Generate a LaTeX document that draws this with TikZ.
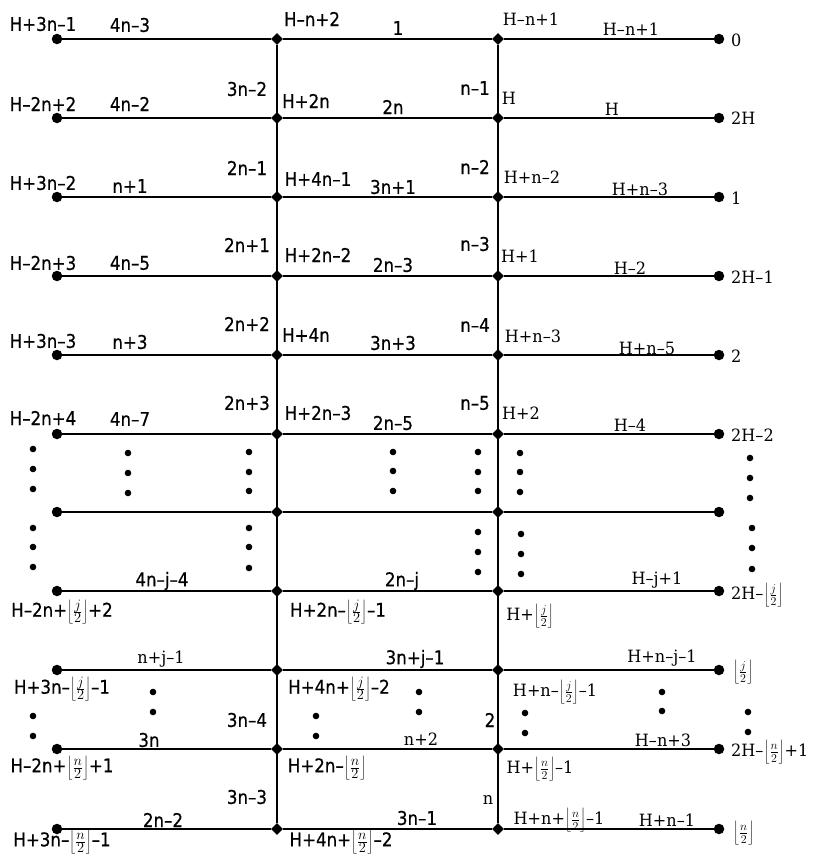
\documentclass[tikz,border=0pt]{standalone}
\usepackage{fontspec}
\newfontfamily\dvs[FakeStretch=0.88,FakeBold=0.5]{DejaVu Sans}
\newfontfamily\dvr[FakeStretch=0.95]{DejaVu Serif}
\usetikzlibrary{shapes.geometric}
\newcommand\flr[1]{\ensuremath{\left\lfloor\frac{#1}{2}\right\rfloor}}
\begin{document}
\begin{tikzpicture}[x=1bp,y=-1bp,
  enddot/.style={circle,fill,inner sep=0pt,minimum size=10.5bp},
  jdot/.style={diamond,fill,inner sep=0pt,minimum size=12bp},
  hl/.style={line width=1.8bp},
  vl/.style={line width=1.5bp},
  sl/.style={inner sep=0pt,font=\dvs\fontsize{19}{22}\selectfont},
  rl/.style={inner sep=0pt,font=\dvr\fontsize{17}{20}\selectfont},
  rr/.style={rl,anchor=west}]
\useasboundingbox (0,0) rectangle (821,857);
\foreach \i/\y in {1/39,2/118,3/197,4/276,5/355,6/434,7/512,8/591,9/670,10/749,11/829} {
  \node[enddot] (L\i) at (57,\y) {};
  \node[jdot] (A\i) at (277,\y) {};
  \node[jdot] (B\i) at (498,\y) {};
  \node[enddot] (R\i) at (719,\y) {};
  \draw[hl] (L\i) -- (A\i) -- (B\i) -- (R\i);
}
\draw[vl] (A1) -- (A11);
\draw[vl] (B1) -- (B11);
% ellipsis dots
\foreach \x/\y in {33/449,33/469,33/489,128/453,128/473,128/493,249/452,249/472,249/491,
  393/452,393/471,393/491,478/452,478/472,478/491,520/453,520/472,520/492,750/458,750/478,750/498,
  33/528,33/547,33/567,249/528,249/547,249/568,478/532,478/552,478/572,521/534,521/554,521/574,
  752/528,752/548,752/569,
  153/692,153/712,33/716,33/736,316/716,316/736,419/692,419/712,525/713,525/733,
  662/692,662/711,748/712,748/732}
  \fill (\x,\y) circle (3.3bp);
% sans labels
\node[sl] (s1) at (43,24) {H+3n–1};
\node[sl] (s2) at (130,25) {4n–3};
\node[sl] (s3) at (312,19) {H–n+2};
\node[sl] (s4) at (398,28) {1};
\node[sl] (s5) at (43,104) {H–2n+2};
\node[sl] (s6) at (130,104) {4n–2};
\node[sl] (s7) at (247,89) {3n–2};
\node[sl] (s8) at (306,101) {H+2n};
\node[sl] (s9) at (393,107) {2n};
\node[sl] (s10) at (475,88) {n–1};
\node[sl] (s11) at (43,183) {H+3n–2};
\node[sl] (s12) at (130,186) {n+1};
\node[sl] (s13) at (247,168) {2n–1};
\node[sl] (s14) at (318,179) {H+4n–1};
\node[sl] (s15) at (393,187) {3n+1};
\node[sl] (s16) at (475,167) {n–2};
\node[sl] (s17) at (43,263) {H–2n+3};
\node[sl] (s18) at (130,263) {4n–5};
\node[sl] (s19) at (247,245) {2n+1};
\node[sl] (s20) at (318,255) {H+2n–2};
\node[sl] (s21) at (393,265) {2n–3};
\node[sl] (s22) at (475,244) {n–3};
\node[sl] (s23) at (43,341) {H+3n–3};
\node[sl] (s24) at (130,342) {n+3};
\node[sl] (s25) at (247,324) {2n+2};
\node[sl] (s26) at (306,335) {H+4n};
\node[sl] (s27) at (393,343) {3n+3};
\node[sl] (s28) at (475,325) {n–4};
\node[sl] (s29) at (43,418) {H–2n+4};
\node[sl] (s30) at (130,419) {4n–7};
\node[sl] (s31) at (247,403) {2n+3};
\node[sl] (s32) at (318,413) {H+2n–3};
\node[sl] (s33) at (393,423) {2n–5};
\node[sl] (s34) at (475,403) {n–5};
\node[sl] (s35) at (162,581) {4n–j–4};
\node[sl] (s36) at (62,612) {H–2n+\flr{j}+2};
\node[sl] (s37) at (402,581) {2n–j};
\node[sl] (s38) at (338,612) {H+2n–\flr{j}–1};
\node[sl] (s39) at (62,689) {H+3n–\flr{j}–1};
\node[sl] (s40) at (415,659) {3n+j–1};
\node[sl] (s41) at (339,689) {H+4n+\flr{j}–2};
\node[sl] (s42) at (247,720) {3n–4};
\node[sl] (s43) at (490,720) {2};
\node[sl] (s44) at (149,740) {3n};
\node[sl] (s45) at (62,768) {H–2n+\flr{n}+1};
\node[sl] (s46) at (327,768) {H+2n–\flr{n}};
\node[sl] (s47) at (247,797) {3n–3};
\node[sl] (s48) at (163,820) {2n–2};
\node[sl] (s49) at (62,842) {H+3n–\flr{n}–1};
\node[sl] (s50) at (417,818) {3n–1};
\node[sl] (s51) at (341,842) {H+4n+\flr{n}–2};
% serif labels
\node[rl] (r1) at (531,19) {H–n+1};
\node[rl] (r2) at (631,29) {H–n+1};
\node[rl] (r3) at (509,98) {H};
\node[rl] (r4) at (612,109) {H};
\node[rl] (r5) at (532,177) {H+n–2};
\node[rl] (r6) at (640,189) {H+n–3};
\node[rl] (r7) at (520,256) {H+1};
\node[rl] (r8) at (630,268) {H–2};
\node[rl] (r9) at (533,336) {H+n–3};
\node[rl] (r10) at (647,348) {H+n–5};
\node[rl] (r11) at (521,413) {H+2};
\node[rl] (r12) at (630,425) {H–4};
\node[rl] (r13) at (657,580) {H–j+1};
\node[rl] (r14) at (530,616) {H+\flr{j}};
\node[rl] (r15) at (161,659) {n+j–1};
\node[rl] (r16) at (662,658) {H+n–j–1};
\node[rl] (r17) at (555,692) {H+n–\flr{j}–1};
\node[rl] (r18) at (421,739) {n+2};
\node[rl] (r19) at (663,740) {H–n+3};
\node[rl] (r20) at (540,769) {H+\flr{n}–1};
\node[rl] (r21) at (488,800) {n};
\node[rl] (r22) at (559,820) {H+n+\flr{n}–1};
\node[rl] (r23) at (667,820) {H+n–1};
% right end labels
\node[rr] (e1) at (731,40) {0};
\node[rr] (e2) at (731,118) {2H};
\node[rr] (e3) at (731,198) {1};
\node[rr] (e4) at (731,277) {2H–1};
\node[rr] (e5) at (731,356) {2};
\node[rr] (e6) at (731,435) {2H–2};
\node[rr] (e7) at (731,595) {2H–\flr{j}};
\node[rr] (e8) at (733,672) {\flr{j}};
\node[rr] (e9) at (731,752) {2H–\flr{n}+1};
\node[rr] (e10) at (733,833) {\flr{n}};
\end{tikzpicture}
\end{document}
